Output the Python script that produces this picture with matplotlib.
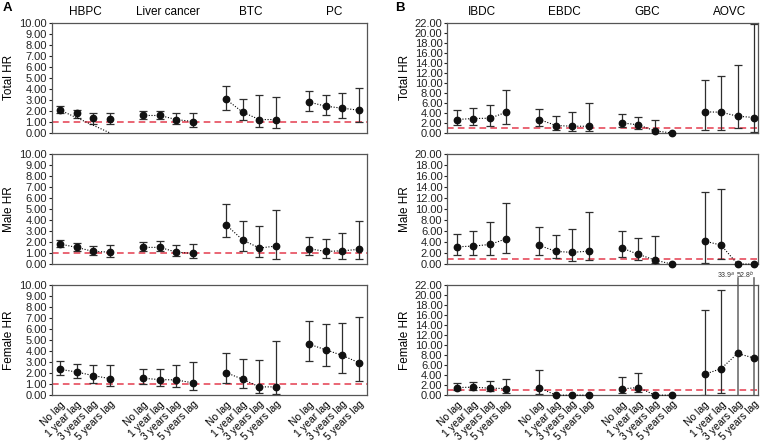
import matplotlib
matplotlib.use("Agg")
import matplotlib.pyplot as plt
import numpy as np

plt.rcParams['font.family'] = ['Liberation Sans', 'DejaVu Sans']

LAGS = ["No lag", "1 year lag", "3 years lag", "5 years lag"]
GROUPS_A = ["HBPC", "Liver cancer", "BTC", "PC"]
GROUPS_B = ["IBDC", "EBDC", "GBC", "AOVC"]
ROWS = ["Total HR", "Male HR", "Female HR"]

# HR, lower CI, upper CI per group (4 lags each); nan = no bar
a_total_hr = [[2.06, 1.76, 1.39, 1.27], [1.58, 1.58, 1.21, 1.03], [3.03, 1.88, 1.21, 1.21], [2.79, 2.42, 2.24, 2.06]]
a_total_lo = [[1.76, 1.39, 0.85, 0.79], [1.27, 1.24, 0.85, 0.55], [2.06, 1.21, 0.55, 0.42], [2.00, 1.64, 1.39, 1.00]]
a_total_hi = [[2.42, 2.12, 1.82, 1.76], [1.97, 1.97, 1.76, 1.76], [4.24, 3.09, 3.45, 3.27], [3.82, 3.48, 3.64, 4.06]]

a_male_hr = [[1.81, 1.51, 1.14, 1.08], [1.51, 1.51, 1.08, 0.96], [3.55, 2.17, 1.45, 1.63], [1.39, 1.14, 1.20, 1.33]]
a_male_lo = [[1.51, 1.20, 0.78, 0.66], [1.20, 1.14, 0.72, 0.54], [2.41, 1.20, 0.60, 0.48], [0.78, 0.54, 0.48, 0.42]]
a_male_hi = [[2.17, 1.87, 1.63, 1.75], [2.02, 2.05, 1.69, 1.81], [5.42, 3.86, 3.49, 4.94], [2.41, 2.29, 2.77, 3.92]]

a_female_hr = [[2.34, 2.10, 1.77, 1.50], [1.53, 1.41, 1.38, 1.11], [2.04, 1.44, 0.75, 0.75], [4.62, 4.11, 3.60, 2.94]]
a_female_lo = [[1.80, 1.59, 1.14, 0.81], [0.99, 0.87, 0.75, 0.45], [1.11, 0.69, 0.24, 0.09], [3.12, 2.67, 2.04, 1.29]]
a_female_hi = [[3.06, 2.79, 2.70, 2.70], [2.37, 2.37, 2.73, 3.03], [3.81, 3.27, 3.21, 4.89], [6.70, 6.46, 6.52, 7.12]]

nan = np.nan
b_total_hr = [[2.67, 2.87, 2.93, 4.13], [2.67, 1.47, 1.33, 1.33], [2.00, 1.60, 0.40, 0.00], [4.20, 4.13, 3.33, 3.07]]
b_total_lo = [[1.60, 1.60, 1.47, 1.87], [1.47, 0.53, 0.40, 0.40], [1.20, 0.80, 0.00, nan], [0.67, 0.53, 1.07, 0.27]]
b_total_hi = [[4.53, 4.87, 5.60, 8.53], [4.80, 3.33, 4.13, 6.00], [3.73, 3.20, 2.53, nan], [10.53, 11.33, 13.47, 21.73]]

b_male_hr = [[3.13, 3.25, 3.55, 4.58], [3.37, 2.29, 2.11, 2.35], [2.89, 1.75, 0.72, 0.00], [4.16, 3.43, 0.00, 0.00]]
b_male_lo = [[1.69, 1.69, 1.57, 2.05], [1.57, 1.08, 0.60, 0.66], [1.33, 0.66, 0.12, nan], [0.24, 0.96, nan, nan]]
b_male_hi = [[5.42, 5.90, 7.53, 11.14], [6.63, 5.30, 6.39, 9.46], [5.90, 4.76, 5.00, nan], [13.00, 13.67, nan, nan]]

b_female_hr = [[1.52, 1.59, 1.39, 1.32], [1.45, 0.00, 0.00, 0.00], [1.25, 1.52, 0.00, 0.00], [4.16, 5.28, 8.32, 7.40]]
b_female_lo = [[0.99, 0.99, 0.73, 0.46], [0.33, nan, nan, nan], [0.46, 0.59, nan, nan], [0.00, 0.46, 0.00, 0.00]]
b_female_hi = [[2.44, 2.58, 2.84, 3.24], [5.09, nan, nan, nan], [3.63, 4.43, nan, nan], [16.97, 20.94, 33.9, 52.8]]
b_female_notes = {(3, 2): "33.9$^a$", (3, 3): "52.8$^b$"}

# odd extra dotted segment in HBPC total (no lag -> 5 years lag at 0)
hbpc_total_extra = [2.06, 0.00]

DATA = {
    "A": [(a_total_hr, a_total_lo, a_total_hi), (a_male_hr, a_male_lo, a_male_hi), (a_female_hr, a_female_lo, a_female_hi)],
    "B": [(b_total_hr, b_total_lo, b_total_hi), (b_male_hr, b_male_lo, b_male_hi), (b_female_hr, b_female_lo, b_female_hi)],
}
YMAX = {"A": [10, 10, 10], "B": [22, 20, 22]}
YSTEP = {"A": 1, "B": 2}

fig = plt.figure(figsize=(7.62, 4.43), dpi=100)

rows_bottom = [0.700, 0.404, 0.108]
row_h = 0.249
panel_left = {"A": 0.068, "B": 0.587}
panel_w = {"A": 0.414, "B": 0.408}
panel_xlim = {"A": (0.5, 19.5), "B": (0.42, 19.25)}

ERR_COL = "#2e2e2e"
RED = "#e64c5c"

for panel, groups in (("A", GROUPS_A), ("B", GROUPS_B)):
    for r in range(3):
        ax = fig.add_axes([panel_left[panel], rows_bottom[r], panel_w[panel], row_h])
        hr, lo, hi = DATA[panel][r]
        ymax = YMAX[panel][r]
        ticks_x = []
        for g in range(4):
            xs = np.arange(4) + 1 + g * 5
            ticks_x.extend(xs)
            y = np.array(hr[g], dtype=float)
            l = np.array(lo[g], dtype=float)
            h = np.array(hi[g], dtype=float)
            if not (panel == "A" and r == 0 and g == 0):
                ax.plot(xs, y, ls=(0, (1, 1.5)), color="k", lw=0.8, zorder=3, clip_on=False)
            for i in range(4):
                if np.isnan(l[i]):
                    continue
                top = h[i]
                if top > ymax:
                    # bar runs past the top of the axes
                    ax.plot([xs[i], xs[i]], [l[i], ymax * 1.065], color="#707070", lw=1.2,
                            clip_on=False, zorder=2)
                    continue
                ax.errorbar(xs[i], y[i], yerr=[[y[i] - l[i]], [top - y[i]]], fmt="none",
                            ecolor=ERR_COL, elinewidth=0.9, capsize=3, capthick=0.9, zorder=2)
            ax.plot(xs, y, "o", color="#111111", ms=4.6, zorder=4, clip_on=False)
        if panel == "A" and r == 0:
            ax.plot([1, 4], hbpc_total_extra, ls=(0, (1, 1.5)), color="k", lw=0.8, zorder=3)
        if panel == "B" and r == 2:
            trans = ax.get_xaxis_transform()
            for (g, i), txt in b_female_notes.items():
                shift = 0.12 if i == 2 else 0.0
                ax.text(g * 5 + i + 1 - shift, 1.085, txt, transform=trans, ha="right", va="center",
                        fontsize=5, color="#333333")

        ax.axhline(1.0, color=RED, ls=(0, (4, 2.5)), lw=1.2, zorder=1)
        ax.set_xlim(*panel_xlim[panel])
        ax.set_ylim(0, ymax)
        yt = np.arange(0, ymax + 0.01, YSTEP[panel])
        ax.set_yticks(yt)
        ax.set_yticklabels(["%.2f" % v for v in yt], fontsize=8)
        ax.tick_params(axis="y", length=2, pad=1.5, colors="#222222")
        ax.set_ylabel(ROWS[r], fontsize=8.5, labelpad=3)
        ax.set_xticks(ticks_x)
        if r == 2:
            ax.set_xticklabels(LAGS * 4, rotation=45, ha="right", rotation_mode="anchor", fontsize=7.5)
            ax.tick_params(axis="x", length=0, pad=3)
        else:
            ax.set_xticklabels([])
            ax.tick_params(axis="x", length=0)
        for s in ax.spines.values():
            s.set_color("#555555")
            s.set_linewidth(0.9)

        if r == 0:
            trans = ax.get_xaxis_transform()
            for g, name in enumerate(groups):
                ax.text(g * 5 + 2.5, 1.1, name, transform=trans, ha="center", va="center", fontsize=8.5)

fig.text(0.003, 0.982, "A", fontsize=9.5, fontweight="bold", va="center", ha="left")
fig.text(0.519, 0.982, "B", fontsize=9.5, fontweight="bold", va="center", ha="left")

fig.savefig("out.png", dpi=100)
